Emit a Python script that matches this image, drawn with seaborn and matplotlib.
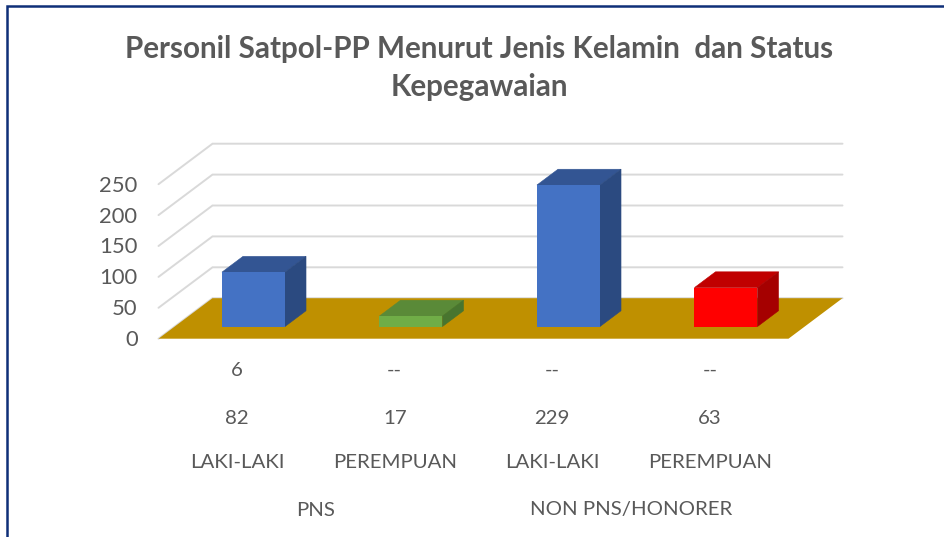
import matplotlib
matplotlib.use("Agg")
import matplotlib.pyplot as plt
from matplotlib.lines import Line2D
from matplotlib.patches import Polygon
import pandas as pd
import seaborn as sns

sns.set_theme(style="white")
plt.rcParams["font.family"] = ["Lato", "DejaVu Sans"]

# ── data ──────────────────────────────────────────────
title = "Personil Satpol-PP Menurut Jenis Kelamin  dan Status\nKepegawaian"
genders = ["LAKI-LAKI", "PEREMPUAN", "LAKI-LAKI", "PEREMPUAN"]
groups = ["PNS", "NON PNS/HONORER"]
row_top = [6, 0, 0, 0]
row_bottom = [82, 17, 229, 63]
y_ticks = [0, 50, 100, 150, 200, 250]
colors = ["#4472c4", "#70ad47", "#4472c4", "#ff0000"]
top_colors = ["#335593", "#5a8a38", "#335593", "#c00000"]
side_colors = ["#2b4a80", "#48752f", "#2b4a80", "#a50000"]

W, H = 944, 537
TEXT = "#595959"
PX_PER_UNIT = 0.618   # vertical pixels per chart unit
CAT_PX = 157.5        # pixels per category
FLOOR_DX, FLOOR_DY = 54, 40.5   # depth of the floor, px
FRONT_D, BACK_D = 0.3, 0.69     # where the bars sit inside the depth
LEFT_PX = 158.5
FLOOR_Y_PX = 338.7

df = pd.DataFrame({
    "pos": [str(i) for i in range(len(genders))],
    "total": [a + b for a, b in zip(row_top, row_bottom)],
})

fig = plt.figure(figsize=(W / 100, H / 100), dpi=100)

# axes plane = front face of the bars
ax_left = LEFT_PX + FRONT_D * FLOOR_DX
ax_bottom_px = FLOOR_Y_PX - FRONT_D * FLOOR_DY
ax_w = CAT_PX * len(genders)
ax_h = 300 * PX_PER_UNIT
ax = fig.add_axes([ax_left / W, 1 - ax_bottom_px / H, ax_w / W, ax_h / H])


def to_data(x_px, y_px):
    # pixel position in the picture -> data position on the axes
    return (x_px - ax_left) / CAT_PX - 0.5, (ax_bottom_px - y_px) / PX_PER_UNIT


def shift(x, y, d):
    # move a front plane point backwards by d (fraction of the floor depth)
    return (x + d * FLOOR_DX / CAT_PX, y + d * FLOOR_DY / PX_PER_UNIT)


sns.barplot(
    data=df, x="pos", y="total", hue="pos", palette=colors, legend=False,
    width=0.4, saturation=1, ax=ax, zorder=5, linewidth=0,
)
ax.set_xlim(-0.5, len(genders) - 0.5)
ax.set_ylim(0, 300)
ax.axis("off")

# ── walls and floor ───────────────────────────────────
x0, y0 = to_data(LEFT_PX, FLOOR_Y_PX)
x1 = x0 + len(genders)
for v in y_ticks:
    y = y0 + v
    bx0, by = shift(x0, y, 1)
    bx1, _ = shift(x1, y, 1)
    ax.add_line(Line2D([x0, bx0, bx1], [y, by, by], color="#d9d9d9", lw=1.4,
                       clip_on=False, zorder=1, solid_joinstyle="miter"))
    ax.text(*to_data(LEFT_PX - 21, FLOOR_Y_PX + 1.5 - v * PX_PER_UNIT), str(v), ha="right",
            va="center", fontsize=15.8, color=TEXT)

floor = [(x0, y0), (x1, y0), shift(x1, y0, 1), shift(x0, y0, 1)]
ax.add_patch(Polygon(floor, closed=True, fc="#bf9000", ec="none", clip_on=False, zorder=2))

# ── bar depth ─────────────────────────────────────────
depth = BACK_D - FRONT_D
for bar, tc, sc in zip(ax.patches, top_colors, side_colors):
    xl, xr = bar.get_x(), bar.get_x() + bar.get_width()
    h = bar.get_height()
    top = [(xl, h), (xr, h), shift(xr, h, depth), shift(xl, h, depth)]
    side = [(xr, 0), shift(xr, 0, depth), shift(xr, h, depth), (xr, h)]
    ax.add_patch(Polygon(top, closed=True, fc=tc, ec=tc, lw=0.4, clip_on=False, zorder=4))
    ax.add_patch(Polygon(side, closed=True, fc=sc, ec=sc, lw=0.4, clip_on=False, zorder=4))

# ── table under the chart ─────────────────────────────
fs = 14.7
for i in range(len(genders)):
    cx = x0 + i + 0.5
    top_txt = str(row_top[i]) if row_top[i] else "--"
    for y_px, s in [(370.5, top_txt), (418.5, str(row_bottom[i])), (463, genders[i])]:
        ax.text(cx, to_data(0, y_px)[1], s, ha="center", va="center", fontsize=fs, color=TEXT)
for j, g in enumerate(groups):
    ax.text(x0 + 1 + 2 * j, to_data(0, 510)[1], g, ha="center", va="center", fontsize=fs, color=TEXT)

# ── title and frame ───────────────────────────────────
fig.text(479.5 / W, 1 - 68 / H, title, ha="center", va="center", fontsize=21.3,
         fontweight="bold", color=TEXT, linespacing=1.42)
fig.add_artist(Line2D([7 / W, 7 / W, 1], [0, 1 - 6 / H, 1 - 6 / H], color="#0f2f78",
                      lw=1.8, transform=fig.transFigure, solid_joinstyle="miter"))

fig.savefig("out.png", dpi=100)
